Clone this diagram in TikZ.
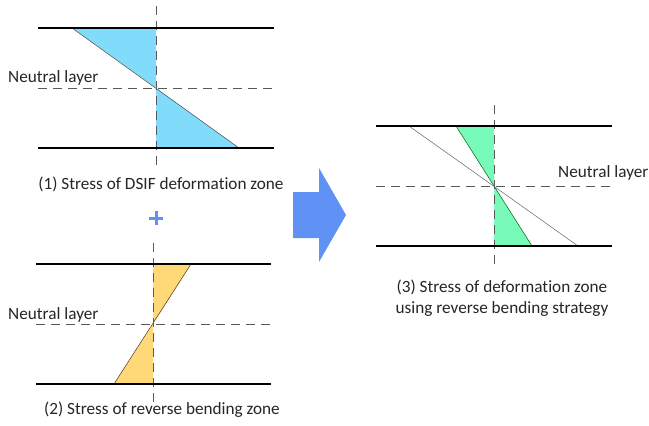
\documentclass[tikz,border=0pt]{standalone}
\usepackage{fontspec}
\setmainfont[Ligatures=NoCommon]{Carlito}
\begin{document}
\begin{tikzpicture}[x=1pt,y=-1pt,
  plate/.style={line width=2pt,black},
  guide/.style={black!65,line width=0.8pt,dash pattern=on 9pt off 6pt},
  hyp/.style={line width=0.5pt},
  lbl/.style={font=\fontsize{17.2}{21}\selectfont,inner sep=0pt,text=black!85},
  bigarrow/.style={fill=arrowblue,draw=none}]
\definecolor{arrowblue}{RGB}{96,146,246}
\definecolor{fillblue}{RGB}{128,220,250}
\definecolor{fillyellow}{RGB}{255,216,120}
\definecolor{fillgreen}{RGB}{120,250,185}
\useasboundingbox (0,0) rectangle (649,426);
\fill[white] (0,0) rectangle (649,426);
% ---------- panel 1
\fill[fillblue] (72,28) -- (156,28) -- (156,88) -- cycle;
\fill[fillblue] (156,88) -- (156,148) -- (239,148) -- cycle;
\draw[hyp,black!70] (72,28) -- (239,148);
\draw[guide] (38,88) -- (274,88);
\draw[guide] (156,6) -- (156,170);
\draw[plate] (38,28) -- (274,28);
\draw[plate] (38,148) -- (274,148);
\node[lbl,anchor=base west] (n1) at (8,82) {Neutral layer};
\node[lbl] (c1) at (161,184) {(1) Stress of DSIF deformation zone};
% plus
\draw[arrowblue,line width=3pt] (149,218) -- (163,218) (156,211) -- (156,225);
% ---------- panel 2
\fill[fillyellow] (153,264) -- (191,264) -- (153,324) -- cycle;
\fill[fillyellow] (153,324) -- (114,384) -- (153,384) -- cycle;
\draw[hyp,black!60!brown] (191,264) -- (114,384);
\draw[guide] (36,324) -- (271,324);
\draw[guide] (153,243) -- (153,403);
\draw[plate] (36,264) -- (271,264);
\draw[plate] (36,384) -- (271,384);
\node[lbl,anchor=base west] (n2) at (8,319) {Neutral layer};
\node[lbl] (c2) at (162,410) {(2) Stress of reverse bending zone};
% ---------- arrow
\fill[bigarrow] (293,192) -- (319,192) -- (319,168) -- (346,215) -- (319,262) -- (319,238) -- (293,238) -- cycle;
% ---------- panel 3
\fill[fillgreen] (456,126) -- (494,126) -- (494,186) -- cycle;
\fill[fillgreen] (494,186) -- (494,246) -- (532,246) -- cycle;
\draw[hyp,black!60!green] (456,126) -- (532,246);
\draw[hyp,black!60] (409,126) -- (578,246);
\draw[guide] (376,186) -- (612,186);
\draw[guide] (494,105) -- (494,267);
\draw[plate] (376,126) -- (612,126);
\draw[plate] (376,246) -- (612,246);
\node[lbl,anchor=base west] (n3) at (558,177) {Neutral layer};
\node[lbl,align=center] (c3) at (502,298) {(3) Stress of deformation zone\\using reverse bending strategy};
\end{tikzpicture}
\end{document}
